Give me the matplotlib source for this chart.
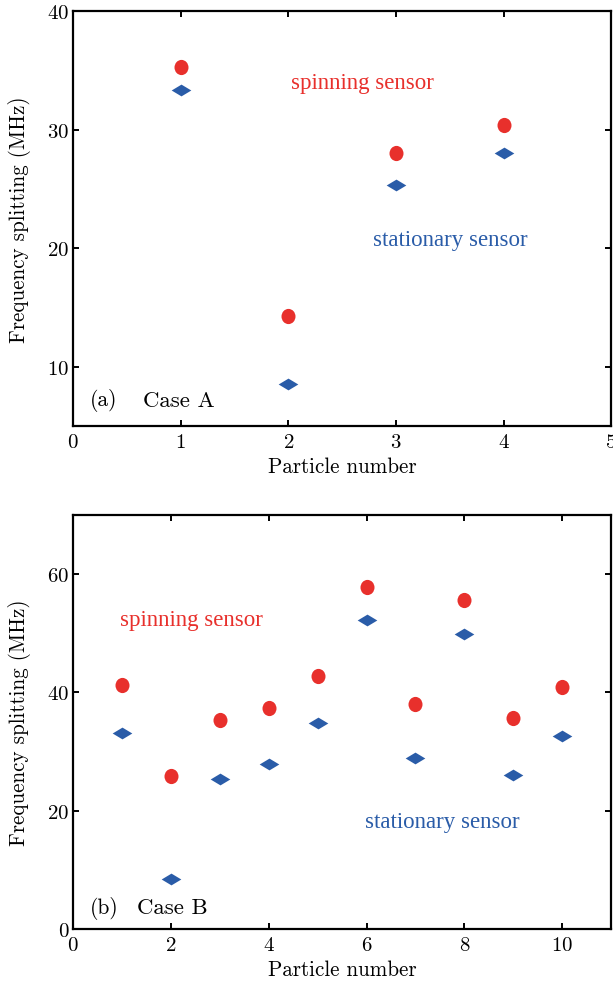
import matplotlib
matplotlib.use("Agg")
import matplotlib.pyplot as plt
from matplotlib.path import Path

plt.rcParams['font.family'] = 'serif'
plt.rcParams['font.serif'] = ['cmr10', 'DejaVu Serif']
plt.rcParams['mathtext.fontset'] = 'cm'
plt.rcParams['axes.unicode_minus'] = False
plt.rcParams['axes.formatter.use_mathtext'] = True

# Case A data
particles_a = [1, 2, 3, 4]
spinning_a = [35.3, 14.3, 28.0, 30.4]
stationary_a = [33.3, 8.5, 25.3, 28.0]

# Case B data
particles_b = [1, 2, 3, 4, 5, 6, 7, 8, 9, 10]
spinning_b = [41.3, 25.8, 35.3, 37.3, 42.7, 57.9, 38.0, 55.7, 35.6, 40.9]
stationary_b = [33.2, 8.4, 25.3, 27.9, 34.8, 52.3, 28.9, 49.8, 26.0, 32.7]

xticks_a = [0, 1, 2, 3, 4, 5]
yticks_a = [10, 20, 30, 40]
xticks_b = [0, 2, 4, 6, 8, 10]
yticks_b = [0, 20, 40, 60]

red = '#e8302c'
blue = '#2a5ca8'
diamond = Path([(-1, 0), (0, 0.6), (1, 0), (0, -0.6), (-1, 0)],
               [Path.MOVETO, Path.LINETO, Path.LINETO, Path.LINETO, Path.CLOSEPOLY])
ellipse = Path.unit_circle().transformed(matplotlib.transforms.Affine2D().scale(0.92, 1.0))

fig = plt.figure(figsize=(6.13, 9.87), dpi=100)
ax1 = fig.add_axes([0.119, 0.5674, 0.878, 0.4205])
ax2 = fig.add_axes([0.119, 0.0578, 0.878, 0.4194])

annot_font = dict(family=['Liberation Serif'], fontsize=16.5)
LS = 15.2

def style(ax):
    for s in ax.spines.values():
        s.set_linewidth(1.6)
    ax.tick_params(direction='in', top=True, right=True, length=4.5, width=1.4,
                   labelsize=15)
    ax.tick_params(axis='y', pad=2.5)
    ax.tick_params(axis='x', pad=5)

# Top panel
ax1.scatter(particles_a, spinning_a, marker=ellipse, s=120, color=red, zorder=3, linewidths=0)
ax1.scatter(particles_a, stationary_a, marker=diamond, s=200, color=blue, zorder=3, linewidths=0)
ax1.set_xlim(0, 5)
ax1.set_ylim(5, 40)
ax1.set_xticks(xticks_a)
ax1.set_yticks(yticks_a)
ax1.set_xlabel('Particle number', fontsize=LS, labelpad=4)
ax1.set_ylabel('Frequency splitting (MHz)', fontsize=LS, labelpad=12)
style(ax1)
ax1.text(2.03, 34.0, 'spinning sensor', color=red, va='center', ha='left', **annot_font)
ax1.text(2.79, 20.7, 'stationary sensor', color=blue, va='center', ha='left', **annot_font)
ax1.text(0.16, 7.2, '(a)', va='center', ha='left', fontsize=15.5)
ax1.text(0.65, 7.2, 'Case A', va='center', ha='left', fontsize=16.5)

# Bottom panel
ax2.scatter(particles_b, spinning_b, marker=ellipse, s=120, color=red, zorder=3, linewidths=0)
ax2.scatter(particles_b, stationary_b, marker=diamond, s=200, color=blue, zorder=3, linewidths=0)
ax2.set_xlim(0, 11)
ax2.set_ylim(0, 70)
ax2.set_xticks(xticks_b)
ax2.set_yticks(yticks_b)
ax2.set_xlabel('Particle number', fontsize=LS, labelpad=4)
ax2.set_ylabel('Frequency splitting (MHz)', fontsize=LS, labelpad=12)
style(ax2)
ax2.text(0.96, 52.3, 'spinning sensor', color=red, va='center', ha='left', **annot_font)
ax2.text(5.97, 18.1, 'stationary sensor', color=blue, va='center', ha='left', **annot_font)
ax2.text(0.35, 3.7, '(b)', va='center', ha='left', fontsize=15.5)
ax2.text(1.3, 3.7, 'Case B', va='center', ha='left', fontsize=16.5)

fig.savefig('out.png', dpi=100)
